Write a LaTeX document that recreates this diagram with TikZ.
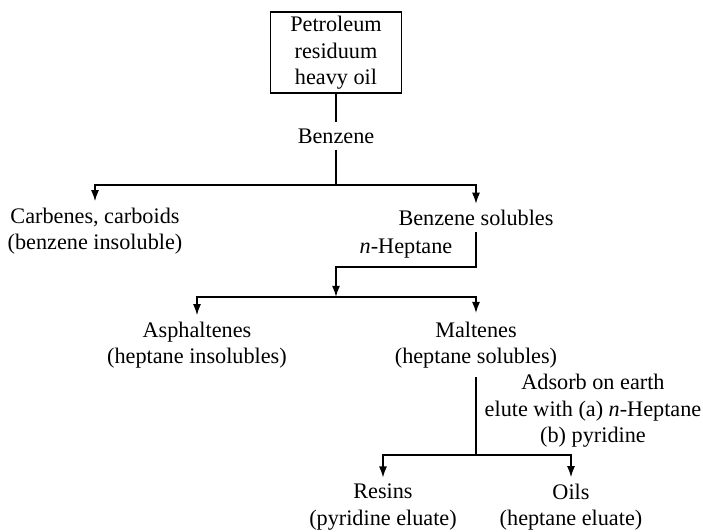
\documentclass[tikz,border=0pt]{standalone}
\usepackage{fontspec}
\setmainfont{Liberation Serif}
\usetikzlibrary{arrows.meta}

\begin{document}
\begin{tikzpicture}[x=0.45pt, y=-0.45pt, line width=0.7pt,
    txt/.style={align=center, inner sep=2.5pt, font=\fontsize{10}{12}\selectfont},
    feedbox/.style={txt, draw, minimum width=59pt, minimum height=36.5pt, inner sep=1pt},
    flow/.style={-{Latex[length=5pt,width=3.6pt]}}]
        \useasboundingbox (0,0) rectangle (703,531);

        \node[feedbox] (feed) at (336,52.7) {Petroleum\\residuum\\heavy oil};
        \node[txt] (benz) at (336,136) {Benzene};
        \coordinate (split1) at (336,185);
        \node[txt] (carb) at (95,231) {Carbenes, carboids\\(benzene insoluble)};
        \node[txt] (bsol) at (476,218) {Benzene solubles};
        \node[txt] (hept) at (406,249) {\textit{n}-Heptane};
        \coordinate (bend) at (476,267);
        \coordinate (split2) at (336,297);
        \node[txt] (asph) at (197,345) {Asphaltenes\\(heptane insolubles)};
        \node[txt, inner sep=3.5pt] (malt) at (476,345) {Maltenes\\(heptane solubles)};
        \node[txt] (adsorb) at (593,411) {Adsorb on earth\\elute with (a) \textit{n}-Heptane\\(b) pyridine};
        \coordinate (split3) at (476,455);
        \node[txt] (resin) at (383,507) {Resins\\(pyridine eluate)};
        \node[txt] (oils) at (571,507) {Oils\\(heptane eluate)};

        \draw (feed) -- (benz);
        \draw (benz) -- (split1);
        \draw[flow] (split1) -| (carb);
        \draw[flow] (split1) -| (bsol);
        \draw[flow] (bsol) -- (bend) -| (split2);
        \draw[flow] (split2) -| (asph);
        \draw[flow] (split2) -| (malt);
        \draw (malt) -- (split3);
        \draw[flow] (split3) -| (resin);
        \draw[flow] (split3) -| (oils);
\end{tikzpicture}
\end{document}
